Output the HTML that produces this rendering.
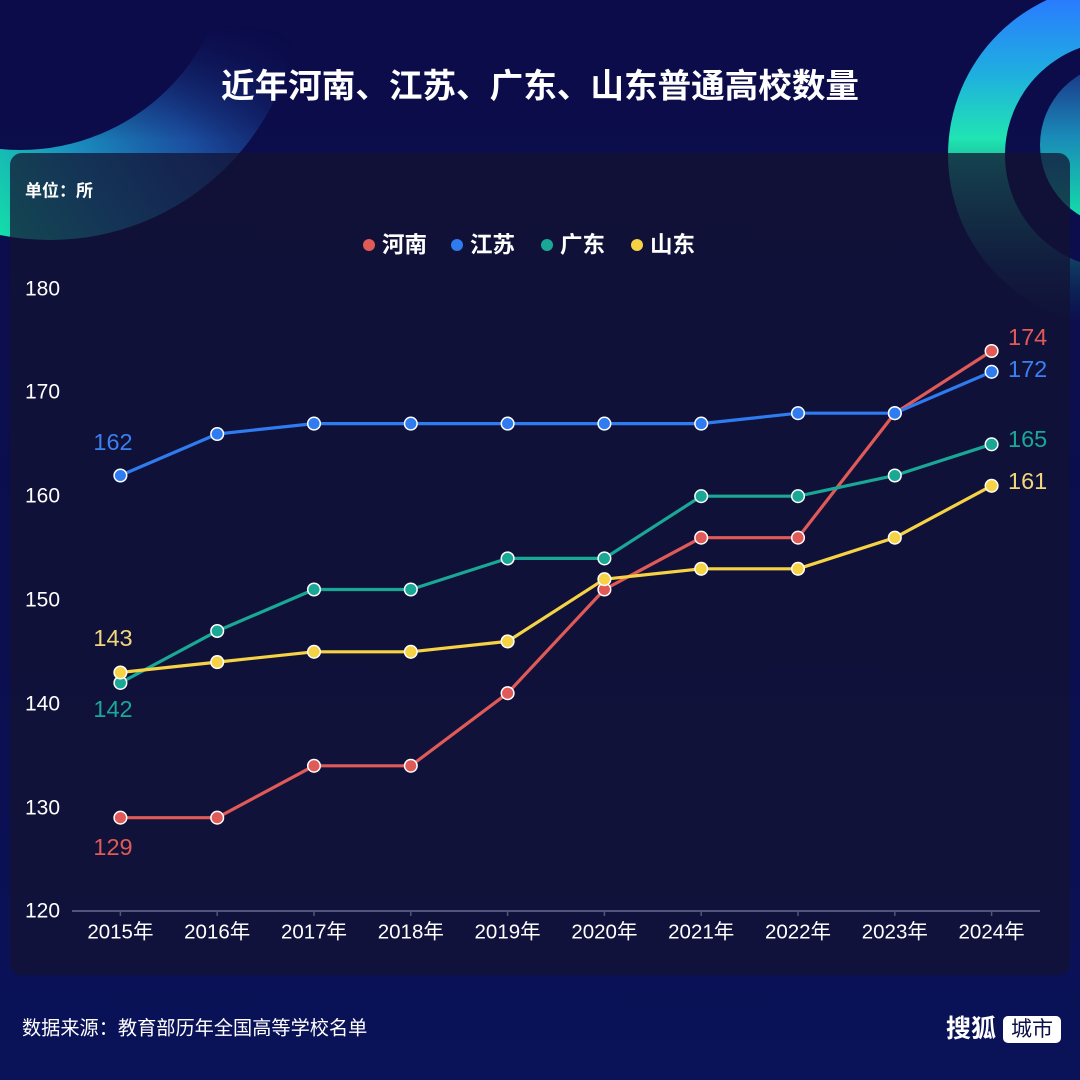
<!DOCTYPE html>
<html>
<head>
<meta charset="utf-8">
<style>
html,body{margin:0;padding:0;}
body{width:1080px;height:1080px;overflow:hidden;background:#0c0d4a;}
svg{display:block;}
</style>
</head>
<body>
<svg width="1080" height="1080" viewBox="0 0 1080 1080" xmlns="http://www.w3.org/2000/svg">
  <defs>
    <linearGradient id="bg" x1="0" y1="0" x2="0" y2="1">
      <stop offset="0" stop-color="#0c0c4a"/>
      <stop offset="0.6" stop-color="#0b0f50"/>
      <stop offset="1" stop-color="#0a1258"/>
    </linearGradient>
    <linearGradient id="leftBand" gradientUnits="userSpaceOnUse" x1="0" y1="230" x2="290" y2="40">
      <stop offset="0" stop-color="#14dcaa"/>
      <stop offset="0.3" stop-color="#1a90bf"/>
      <stop offset="0.6" stop-color="#1d55a8" stop-opacity="0.9"/>
      <stop offset="1" stop-color="#1b3a8f" stop-opacity="0"/>
    </linearGradient>
    <linearGradient id="fadeTop" gradientUnits="userSpaceOnUse" x1="0" y1="25" x2="0" y2="140">
      <stop offset="0" stop-color="#fff" stop-opacity="0"/>
      <stop offset="1" stop-color="#fff" stop-opacity="1"/>
    </linearGradient>
    <mask id="leftMask" maskUnits="userSpaceOnUse" x="0" y="0" width="400" height="300">
      <rect x="0" y="0" width="400" height="300" fill="url(#fadeTop)"/>
    </mask>
    <linearGradient id="ringGrad" gradientUnits="userSpaceOnUse" x1="0" y1="0" x2="0" y2="330">
      <stop offset="0" stop-color="#2a7cff"/>
      <stop offset="0.22" stop-color="#1faee0"/>
      <stop offset="0.42" stop-color="#20e4b2"/>
      <stop offset="0.7" stop-color="#18b090" stop-opacity="0.55"/>
      <stop offset="1" stop-color="#0e3a6a" stop-opacity="0"/>
    </linearGradient>
    <linearGradient id="discGrad" gradientUnits="userSpaceOnUse" x1="0" y1="60" x2="0" y2="230">
      <stop offset="0" stop-color="#1a2a80"/>
      <stop offset="0.45" stop-color="#1a8ab8"/>
      <stop offset="1" stop-color="#12eaa8"/>
    </linearGradient>
  </defs>

  <rect x="0" y="0" width="1080" height="1080" fill="url(#bg)"/>

  <!-- left crescent decoration -->
  <path fill="url(#leftBand)" fill-rule="evenodd" mask="url(#leftMask)"
    d="M 300 -10 A 250 250 0 1 1 -200 -10 A 250 250 0 1 1 300 -10 Z
       M 230 -60 A 210 210 0 1 0 -190 -60 A 210 210 0 1 0 230 -60 Z"/>

  <!-- right ring decoration -->
  <path fill="url(#ringGrad)" fill-rule="evenodd"
    d="M 1290 155 A 171 171 0 1 1 948 155 A 171 171 0 1 1 1290 155 Z
       M 1233 155 A 114 114 0 1 0 1005 155 A 114 114 0 1 0 1233 155 Z"/>
  <circle cx="1122" cy="145" r="82" fill="url(#discGrad)"/>

  <!-- card -->
  <rect x="10" y="153" width="1060" height="822" rx="12" ry="12" fill="rgb(19,19,50)" fill-opacity="0.74"/>

  <!-- title -->
  <text x="540" y="87" text-anchor="middle" dominant-baseline="central" fill="#ffffff"
    font-family="'Liberation Sans','Noto Sans CJK SC',sans-serif" font-size="33.6" font-weight="bold">近年河南、江苏、广东、山东普通高校数量</text>

  <!-- unit -->
  <text x="25" y="191" dominant-baseline="central" fill="#ffffff"
    font-family="'Liberation Sans','Noto Sans CJK SC',sans-serif" font-size="17" font-weight="bold">单位：所</text>

  <!-- legend -->
  <g font-family="'Liberation Sans','Noto Sans CJK SC',sans-serif" font-size="22.5" font-weight="bold" fill="#ffffff">
    <circle cx="369" cy="245" r="6" fill="#e05a58"/>
    <text x="382" y="245" dominant-baseline="central">河南</text>
    <circle cx="457" cy="245" r="6" fill="#2f7bf0"/>
    <text x="470" y="245" dominant-baseline="central">江苏</text>
    <circle cx="547" cy="245" r="6" fill="#1aa896"/>
    <text x="560" y="245" dominant-baseline="central">广东</text>
    <circle cx="637" cy="245" r="6" fill="#f6d245"/>
    <text x="650" y="245" dominant-baseline="central">山东</text>
  </g>

  <!-- y axis labels -->
  <g font-family="'Liberation Sans','Noto Sans CJK SC',sans-serif" font-size="21" fill="#ffffff">
    <text x="25" y="289" dominant-baseline="central">180</text>
    <text x="25" y="392" dominant-baseline="central">170</text>
    <text x="25" y="496" dominant-baseline="central">160</text>
    <text x="25" y="600" dominant-baseline="central">150</text>
    <text x="25" y="704" dominant-baseline="central">140</text>
    <text x="25" y="808" dominant-baseline="central">130</text>
    <text x="25" y="911" dominant-baseline="central">120</text>
  </g>

  <!-- x axis -->
  <line x1="72" y1="911" x2="1040" y2="911" stroke="#50557a" stroke-width="2"/>
  <g stroke="#50557a" stroke-width="1.5">
    <line x1="120.4" y1="911" x2="120.4" y2="916"/>
    <line x1="217.2" y1="911" x2="217.2" y2="916"/>
    <line x1="314" y1="911" x2="314" y2="916"/>
    <line x1="410.8" y1="911" x2="410.8" y2="916"/>
    <line x1="507.6" y1="911" x2="507.6" y2="916"/>
    <line x1="604.4" y1="911" x2="604.4" y2="916"/>
    <line x1="701.2" y1="911" x2="701.2" y2="916"/>
    <line x1="798" y1="911" x2="798" y2="916"/>
    <line x1="894.8" y1="911" x2="894.8" y2="916"/>
    <line x1="991.6" y1="911" x2="991.6" y2="916"/>
  </g>
  <g font-family="'Liberation Sans','Noto Sans CJK SC',sans-serif" font-size="20.5" fill="#ffffff" text-anchor="middle">
    <text x="120.4" y="932" dominant-baseline="central">2015年</text>
    <text x="217.2" y="932" dominant-baseline="central">2016年</text>
    <text x="314" y="932" dominant-baseline="central">2017年</text>
    <text x="410.8" y="932" dominant-baseline="central">2018年</text>
    <text x="507.6" y="932" dominant-baseline="central">2019年</text>
    <text x="604.4" y="932" dominant-baseline="central">2020年</text>
    <text x="701.2" y="932" dominant-baseline="central">2021年</text>
    <text x="798" y="932" dominant-baseline="central">2022年</text>
    <text x="894.8" y="932" dominant-baseline="central">2023年</text>
    <text x="991.6" y="932" dominant-baseline="central">2024年</text>
  </g>

  <!-- 河南 -->
  <polyline fill="none" stroke="#e05a58" stroke-width="3.2" stroke-linejoin="round"
    points="120.4,817.7 217.2,817.7 314,765.8 410.8,765.8 507.6,693.2 604.4,589.5 701.2,537.7 798,537.7 894.8,413.2 991.6,351"/>
  <g fill="#e05a58" stroke="#ffffff" stroke-width="1.5">
    <circle cx="120.4" cy="817.7" r="6.3"/><circle cx="217.2" cy="817.7" r="6.3"/>
    <circle cx="314" cy="765.8" r="6.3"/><circle cx="410.8" cy="765.8" r="6.3"/>
    <circle cx="507.6" cy="693.2" r="6.3"/><circle cx="604.4" cy="589.5" r="6.3"/>
    <circle cx="701.2" cy="537.7" r="6.3"/><circle cx="798" cy="537.7" r="6.3"/>
    <circle cx="894.8" cy="413.2" r="6.3"/><circle cx="991.6" cy="351" r="6.3"/>
  </g>

  <!-- 江苏 -->
  <polyline fill="none" stroke="#2f7bf0" stroke-width="3.2" stroke-linejoin="round"
    points="120.4,475.5 217.2,434 314,423.6 410.8,423.6 507.6,423.6 604.4,423.6 701.2,423.6 798,413.2 894.8,413.2 991.6,371.8"/>
  <g fill="#2f7bf0" stroke="#ffffff" stroke-width="1.5">
    <circle cx="120.4" cy="475.5" r="6.3"/><circle cx="217.2" cy="434" r="6.3"/>
    <circle cx="314" cy="423.6" r="6.3"/><circle cx="410.8" cy="423.6" r="6.3"/>
    <circle cx="507.6" cy="423.6" r="6.3"/><circle cx="604.4" cy="423.6" r="6.3"/>
    <circle cx="701.2" cy="423.6" r="6.3"/><circle cx="798" cy="413.2" r="6.3"/>
    <circle cx="894.8" cy="413.2" r="6.3"/><circle cx="991.6" cy="371.8" r="6.3"/>
  </g>

  <!-- 广东 -->
  <polyline fill="none" stroke="#1aa896" stroke-width="3.2" stroke-linejoin="round"
    points="120.4,682.9 217.2,631 314,589.5 410.8,589.5 507.6,558.4 604.4,558.4 701.2,496.2 798,496.2 894.8,475.5 991.6,444.3"/>
  <g fill="#1aa896" stroke="#ffffff" stroke-width="1.5">
    <circle cx="120.4" cy="682.9" r="6.3"/><circle cx="217.2" cy="631" r="6.3"/>
    <circle cx="314" cy="589.5" r="6.3"/><circle cx="410.8" cy="589.5" r="6.3"/>
    <circle cx="507.6" cy="558.4" r="6.3"/><circle cx="604.4" cy="558.4" r="6.3"/>
    <circle cx="701.2" cy="496.2" r="6.3"/><circle cx="798" cy="496.2" r="6.3"/>
    <circle cx="894.8" cy="475.5" r="6.3"/><circle cx="991.6" cy="444.3" r="6.3"/>
  </g>

  <!-- 山东 -->
  <polyline fill="none" stroke="#f6d245" stroke-width="3.2" stroke-linejoin="round"
    points="120.4,672.5 217.2,662.1 314,651.8 410.8,651.8 507.6,641.4 604.4,579.2 701.2,568.8 798,568.8 894.8,537.7 991.6,485.8"/>
  <g fill="#f6d245" stroke="#ffffff" stroke-width="1.5">
    <circle cx="120.4" cy="672.5" r="6.3"/><circle cx="217.2" cy="662.1" r="6.3"/>
    <circle cx="314" cy="651.8" r="6.3"/><circle cx="410.8" cy="651.8" r="6.3"/>
    <circle cx="507.6" cy="641.4" r="6.3"/><circle cx="604.4" cy="579.2" r="6.3"/>
    <circle cx="701.2" cy="568.8" r="6.3"/><circle cx="798" cy="568.8" r="6.3"/>
    <circle cx="894.8" cy="537.7" r="6.3"/><circle cx="991.6" cy="485.8" r="6.3"/>
  </g>

  <!-- data labels -->
  <g font-family="'Liberation Sans','Noto Sans CJK SC',sans-serif" font-size="23.5">
    <text x="113" y="442" text-anchor="middle" dominant-baseline="central" fill="#3a80f0">162</text>
    <text x="113" y="638" text-anchor="middle" dominant-baseline="central" fill="#f0d77a">143</text>
    <text x="113" y="709" text-anchor="middle" dominant-baseline="central" fill="#1aa896">142</text>
    <text x="113" y="847" text-anchor="middle" dominant-baseline="central" fill="#e05a58">129</text>
    <text x="1008" y="337" dominant-baseline="central" fill="#e05a58">174</text>
    <text x="1008" y="369" dominant-baseline="central" fill="#3a80f0">172</text>
    <text x="1008" y="439" dominant-baseline="central" fill="#1aa896">165</text>
    <text x="1008" y="481" dominant-baseline="central" fill="#f0d77a">161</text>
  </g>

  <!-- footer -->
  <text x="22" y="1029" dominant-baseline="central" fill="#ffffff"
    font-family="'Liberation Sans','Noto Sans CJK SC',sans-serif" font-size="19.2">数据来源：教育部历年全国高等学校名单</text>
  <text x="946" y="1029" dominant-baseline="central" fill="#ffffff"
    font-family="'Liberation Sans','Noto Sans CJK SC',sans-serif" font-size="25" font-weight="bold">搜狐</text>
  <rect x="1003" y="1016" width="58" height="27" rx="5" ry="5" fill="#ffffff"/>
  <text x="1032" y="1029.5" text-anchor="middle" dominant-baseline="central" fill="#0c0f4a"
    font-family="'Liberation Sans','Noto Sans CJK SC',sans-serif" font-size="21">城市</text>
</svg>
</body>
</html>
